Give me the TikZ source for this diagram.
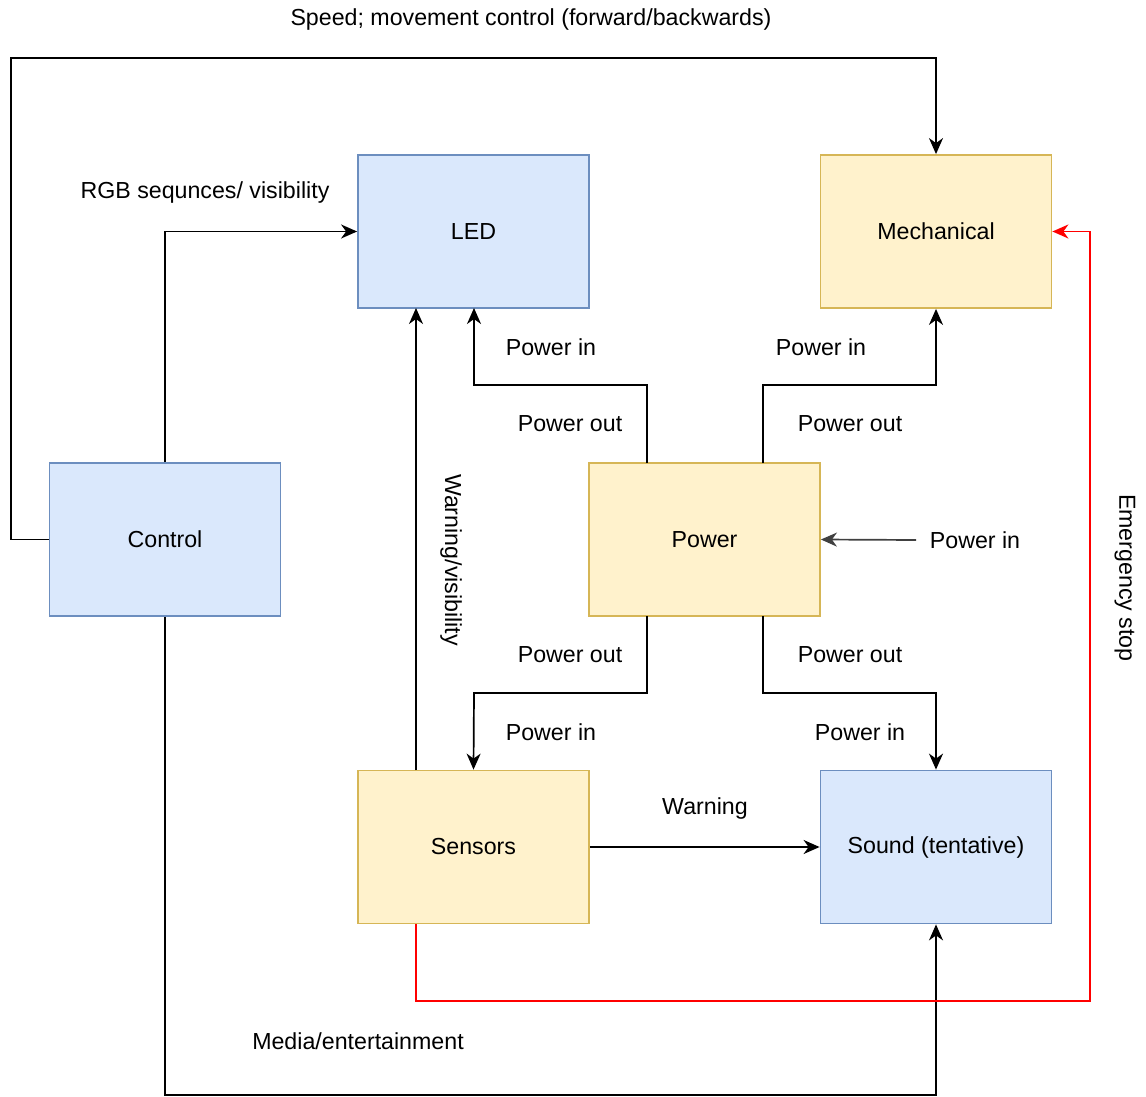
\documentclass[tikz,border=0pt]{standalone}
\usepackage{fontspec}
\setmainfont{Liberation Sans}
\usetikzlibrary{arrows.meta}
\definecolor{bfill}{HTML}{DAE8FC}
\definecolor{bline}{HTML}{6C8EBF}
\definecolor{yfill}{HTML}{FFF2CC}
\definecolor{yline}{HTML}{D6B656}
\definecolor{redl}{HTML}{FF0000}
\begin{document}
\begin{tikzpicture}[x=0.5pt,y=-0.5pt,
  every node/.style={font=\fontsize{11.6}{14}\selectfont},
  bluebox/.style={draw=bline,fill=bfill,line width=0.9pt,minimum width=115.5pt,minimum height=76.5pt,inner sep=0pt},
  yelbox/.style={draw=yline,fill=yfill,line width=0.9pt,minimum width=115.5pt,minimum height=76.5pt,inner sep=0pt},
  conn/.style={line width=0.85pt,-{Stealth[length=8pt,width=7pt,inset=2.5pt]}},
  lbl/.style={inner sep=0pt}]
\useasboundingbox (0,0) rectangle (1146,1097);
\node[bluebox] (led) at (473.5,231.5) {LED};
\node[yelbox] (mech) at (936,231.5) {Mechanical};
\node[bluebox] (ctrl) at (165,539.5) {Control};
\node[yelbox] (pow) at (704.5,539.5) {Power};
\node[yelbox] (sens) at (473.5,847) {Sensors};
\node[bluebox] (snd) at (936,847) {Sound (tentative)};
\coordinate (pin) at (916,540);
\coordinate (botl) at (165,1095);
% Control connections
\draw[conn] (ctrl.north) |- (led.west);
\draw[conn] (ctrl.west) -- (11,539.5) |- (936,58) -- (mech.north);
\draw[conn] (ctrl.south) -- (botl) -| (snd.south);
% Power connections
\draw[conn] (647,463) |- (474,385) -- (474,308);
\draw[conn] (763,463) |- (936,385) -- (mech.south);
\draw[conn] (647,616) |- (474,693) -- (sens.north);
\draw[conn] (763,616) |- (936,693) -- (snd.north);
\draw[conn,draw=black!75] (pin) -- (pow.east);
% Sensors
\draw[conn] (416,770) -- (416,308);
\draw[conn] (sens.east) -- (snd.west);
\draw[conn,draw=redl] (416,924) |- (1090,1001) |- (mech.east);
% labels
\node[lbl] (l1) at (531,20) {Speed; movement control (forward/backwards)};
\node[lbl] (l2) at (205,193) {RGB sequnces/ visibility};
\node[lbl] (l3) at (551,347) {Power in};
\node[lbl] (l4) at (821,347) {Power in};
\node[lbl] (l5) at (570,424) {Power out};
\node[lbl] (l6) at (850,424) {Power out};
\node[lbl] (l7) at (975,540) {Power in};
\node[lbl] (l8) at (570,655) {Power out};
\node[lbl] (l9) at (850,655) {Power out};
\node[lbl] (l10) at (551,732) {Power in};
\node[lbl] (l11) at (860,732) {Power in};
\node[lbl] (l12) at (705,808) {Warning};
\node[lbl] (l13) at (358,1041) {Media/entertainment};
\node[lbl,rotate=-90] (l14) at (451,560) {Warning/visibility};
\node[lbl,rotate=-90] (l15) at (1125,578) {Emergency stop};
\end{tikzpicture}
\end{document}
